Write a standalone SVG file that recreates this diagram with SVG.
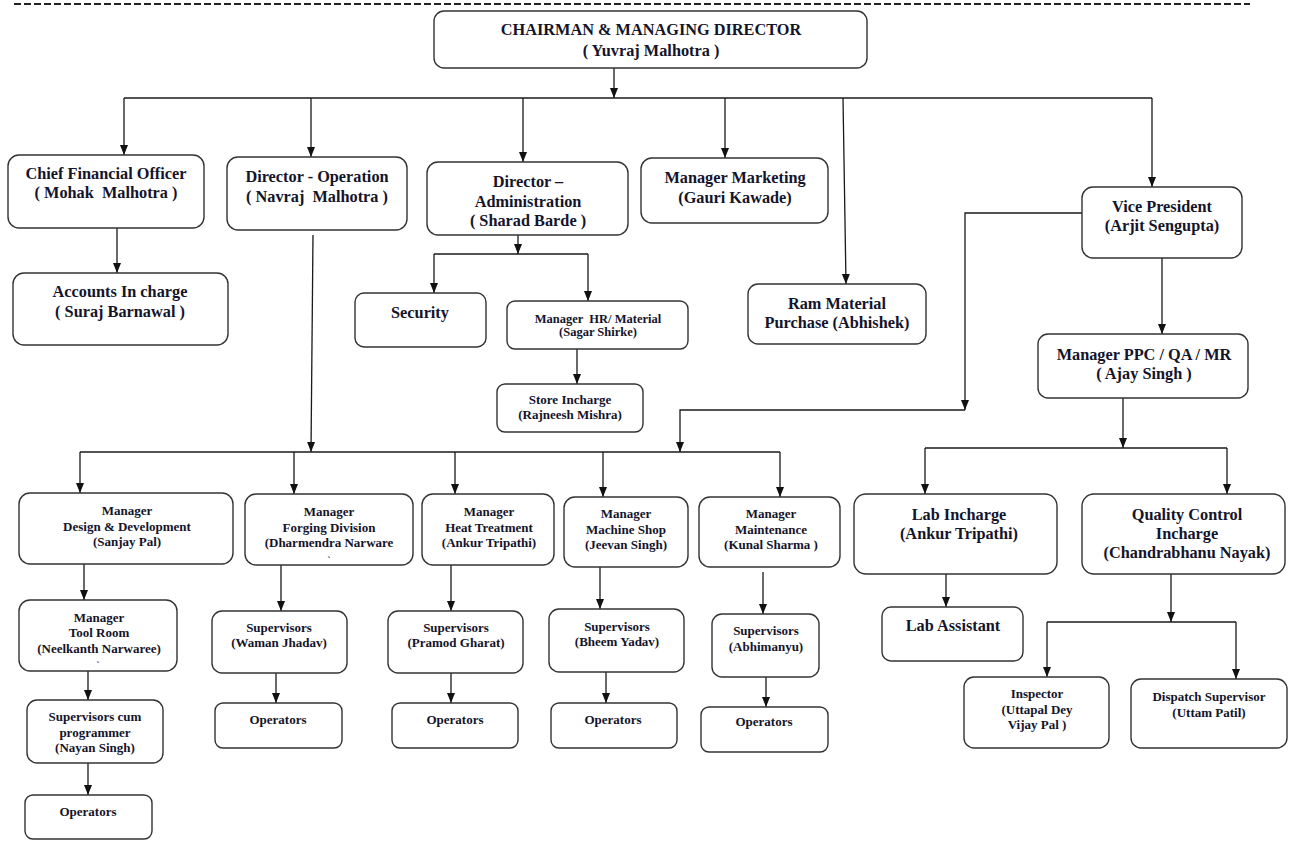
<svg xmlns="http://www.w3.org/2000/svg" width="1290" height="841" viewBox="0 0 1290 841">
<style>
text{font-family:"Liberation Serif","Times New Roman",serif;font-weight:bold;fill:#14142a;text-anchor:middle;white-space:pre}
.l1{font-size:16.3px}
.l2{font-size:13px}
.l2s{font-size:12.5px}
.tk{font-size:9px}
rect{fill:#fff;stroke:#333;stroke-width:1.4}
.c line,.c path{stroke:#1a1a1a;stroke-width:1.3;fill:none}
.a{marker-end:url(#ah)}
</style>
<defs>
<marker id="ah" markerUnits="userSpaceOnUse" markerWidth="10" markerHeight="10" refX="10" refY="5" orient="auto">
<path d="M0,1 L10,5 L0,9 z" fill="#111"/>
</marker>
</defs>
<rect x="0" y="0" width="1290" height="841" style="stroke:none;fill:#fff"/>
<line x1="14" y1="4" x2="1250" y2="4" stroke="#222" stroke-width="2" stroke-dasharray="7 3"/>

<g class="c" id="connectors">
<line class="a" x1="614" y1="68" x2="614" y2="98"/>
<line x1="124" y1="98" x2="1152" y2="98"/>
<line class="a" x1="124" y1="98" x2="124" y2="155"/>
<line class="a" x1="311" y1="98" x2="311" y2="157"/>
<line class="a" x1="523" y1="98" x2="523" y2="162"/>
<line class="a" x1="725" y1="98" x2="725" y2="158"/>
<line class="a" x1="843" y1="98" x2="846" y2="284"/>
<line class="a" x1="1152" y1="98" x2="1152" y2="187"/>
<line class="a" x1="117" y1="228" x2="117" y2="273"/>
<line class="a" x1="518" y1="235" x2="518" y2="254"/>
<line x1="434" y1="254" x2="588" y2="254"/>
<line class="a" x1="434" y1="254" x2="434" y2="293"/>
<line class="a" x1="588" y1="254" x2="588" y2="301"/>
<line class="a" x1="577" y1="349" x2="577" y2="384"/>
<line class="a" x1="313" y1="235" x2="311" y2="452"/>
<line x1="80" y1="452" x2="780" y2="452"/>
<line class="a" x1="80" y1="452" x2="80" y2="493"/>
<line class="a" x1="294" y1="452" x2="294" y2="494"/>
<line class="a" x1="455" y1="452" x2="455" y2="494"/>
<line class="a" x1="603" y1="452" x2="603" y2="497"/>
<line class="a" x1="780" y1="452" x2="780" y2="497"/>
<path class="a" d="M1082,213 H965 V410"/>
<path class="a" d="M965,410 H680 V452"/>
<line class="a" x1="1162" y1="258" x2="1162" y2="334"/>
<line class="a" x1="1123" y1="398" x2="1123" y2="448"/>
<line x1="925" y1="448" x2="1227" y2="448"/>
<line class="a" x1="925" y1="448" x2="925" y2="494"/>
<line class="a" x1="1227" y1="448" x2="1227" y2="494"/>
<line class="a" x1="946" y1="574" x2="946" y2="607"/>
<line class="a" x1="1171" y1="574" x2="1171" y2="622"/>
<line x1="1047" y1="622" x2="1236" y2="622"/>
<line class="a" x1="1047" y1="622" x2="1047" y2="677"/>
<line class="a" x1="1236" y1="622" x2="1236" y2="679"/>
<line class="a" x1="84" y1="564" x2="84" y2="600"/>
<line class="a" x1="88" y1="671" x2="88" y2="700"/>
<line class="a" x1="88" y1="763" x2="88" y2="795"/>
<line class="a" x1="281" y1="565" x2="281" y2="611"/>
<line class="a" x1="276" y1="673" x2="276" y2="703"/>
<line class="a" x1="451" y1="565" x2="451" y2="611"/>
<line class="a" x1="451" y1="673" x2="451" y2="703"/>
<line class="a" x1="600" y1="567" x2="600" y2="609"/>
<line class="a" x1="606" y1="672" x2="606" y2="703"/>
<line class="a" x1="763" y1="572" x2="763" y2="614"/>
<line class="a" x1="766" y1="677" x2="766" y2="707"/>
</g>

<g id="chairman"><rect x="434" y="11" width="433" height="57" rx="10"/>
<text class="l1" x="651" y="35">CHAIRMAN &amp; MANAGING DIRECTOR</text>
<text class="l1" x="651" y="56">( Yuvraj Malhotra )</text></g>

<g id="cfo"><rect x="8" y="155" width="196" height="73" rx="11"/>
<text class="l1" x="106" y="179">Chief Financial Officer</text>
<text class="l1" x="106" y="198">( Mohak  Malhotra )</text></g>

<g id="accounts"><rect x="13" y="273" width="215" height="72" rx="11"/>
<text class="l1" x="120" y="297">Accounts In charge</text>
<text class="l1" x="120" y="317">( Suraj Barnawal )</text></g>

<g id="dir-operation"><rect x="227" y="157" width="180" height="73" rx="11"/>
<text class="l1" x="317" y="182">Director - Operation</text>
<text class="l1" x="317" y="202">( Navraj  Malhotra )</text></g>

<g id="dir-admin"><rect x="427" y="162" width="201" height="73" rx="11"/>
<text class="l1" x="528" y="187">Director –</text>
<text class="l1" x="528" y="207">Administration</text>
<text class="l1" x="528" y="226">( Sharad Barde )</text></g>

<g id="security"><rect x="355" y="293" width="131" height="54" rx="9"/>
<text class="l1" x="420" y="318">Security</text></g>

<g id="manager-hr"><rect x="507" y="301" width="181" height="48" rx="8"/>
<text class="l2s" x="598" y="323">Manager  HR/ Material</text>
<text class="l2s" x="598" y="336">(Sagar Shirke)</text></g>

<g id="store"><rect x="497" y="384" width="146" height="48" rx="8"/>
<text class="l2" x="570" y="404">Store Incharge</text>
<text class="l2" x="570" y="419">(Rajneesh Mishra)</text></g>

<g id="marketing"><rect x="641" y="158" width="187" height="65" rx="11"/>
<text class="l1" x="735" y="183">Manager Marketing</text>
<text class="l1" x="735" y="203">(Gauri Kawade)</text></g>

<g id="ram-material"><rect x="748" y="284" width="178" height="60" rx="10"/>
<text class="l1" x="837" y="309">Ram Material</text>
<text class="l1" x="837" y="328">Purchase (Abhishek)</text></g>

<g id="vice-president"><rect x="1082" y="187" width="160" height="71" rx="11"/>
<text class="l1" x="1162" y="212">Vice President</text>
<text class="l1" x="1162" y="231">(Arjit Sengupta)</text></g>

<g id="manager-ppc"><rect x="1038" y="334" width="210" height="64" rx="10"/>
<text class="l1" x="1144" y="360">Manager PPC / QA / MR</text>
<text class="l1" x="1144" y="379">( Ajay Singh )</text></g>

<g id="lab-incharge"><rect x="854" y="494" width="203" height="80" rx="12"/>
<text class="l1" x="959" y="520">Lab Incharge</text>
<text class="l1" x="959" y="539">(Ankur Tripathi)</text></g>

<g id="qc-incharge"><rect x="1082" y="494" width="203" height="80" rx="12"/>
<text class="l1" x="1187" y="520">Quality Control</text>
<text class="l1" x="1187" y="539">Incharge</text>
<text class="l1" x="1187" y="558">(Chandrabhanu Nayak)</text></g>

<g id="lab-assistant"><rect x="882" y="607" width="141" height="54" rx="9"/>
<text class="l1" x="953" y="631">Lab Assistant</text></g>

<g id="inspector"><rect x="964" y="677" width="145" height="71" rx="10"/>
<text class="l2" x="1037" y="698">Inspector</text>
<text class="l2" x="1037" y="714">(Uttapal Dey</text>
<text class="l2" x="1037" y="729">Vijay Pal )</text></g>

<g id="dispatch"><rect x="1131" y="679" width="156" height="69" rx="10"/>
<text class="l2" x="1209" y="701">Dispatch Supervisor</text>
<text class="l2" x="1209" y="717">(Uttam Patil)</text></g>

<g id="mgr-design"><rect x="19" y="493" width="214" height="71" rx="11"/>
<text class="l2" x="127" y="515">Manager</text>
<text class="l2" x="127" y="531">Design &amp; Development</text>
<text class="l2" x="127" y="546">(Sanjay Pal)</text></g>

<g id="mgr-forging"><rect x="245" y="494" width="168" height="71" rx="11"/>
<text class="l2" x="329" y="516">Manager</text>
<text class="l2" x="329" y="532">Forging Division</text>
<text class="l2" x="329" y="547">(Dharmendra Narware</text>
<text class="tk" x="329" y="563">`</text></g>

<g id="mgr-heat"><rect x="422" y="494" width="132" height="71" rx="11"/>
<text class="l2" x="489" y="516">Manager</text>
<text class="l2" x="489" y="532">Heat Treatment</text>
<text class="l2" x="489" y="547">(Ankur Tripathi)</text></g>

<g id="mgr-machine"><rect x="564" y="497" width="124" height="70" rx="11"/>
<text class="l2" x="626" y="518">Manager</text>
<text class="l2" x="626" y="534">Machine Shop</text>
<text class="l2" x="626" y="549">(Jeevan Singh)</text></g>

<g id="mgr-maintenance"><rect x="699" y="497" width="141" height="70" rx="11"/>
<text class="l2" x="771" y="518">Manager</text>
<text class="l2" x="771" y="534">Maintenance</text>
<text class="l2" x="771" y="549">(Kunal Sharma )</text></g>

<g id="mgr-toolroom"><rect x="19" y="600" width="158" height="71" rx="11"/>
<text class="l2" x="99" y="622">Manager</text>
<text class="l2" x="99" y="637">Tool Room</text>
<text class="l2" x="99" y="653">(Neelkanth Narwaree)</text>
<text class="tk" x="98" y="668">`</text></g>

<g id="sup-programmer"><rect x="27" y="700" width="136" height="63" rx="10"/>
<text class="l2" x="95" y="721">Supervisors cum</text>
<text class="l2" x="95" y="737">programmer</text>
<text class="l2" x="95" y="752">(Nayan Singh)</text></g>

<g id="ops-design"><rect x="25" y="795" width="127" height="44" rx="8"/>
<text class="l2" x="88" y="816">Operators</text></g>

<g id="sup-forging"><rect x="212" y="611" width="135" height="62" rx="10"/>
<text class="l2" x="279" y="632">Supervisors</text>
<text class="l2" x="279" y="647">(Waman Jhadav)</text></g>

<g id="ops-forging"><rect x="215" y="703" width="127" height="45" rx="8"/>
<text class="l2" x="278" y="724">Operators</text></g>

<g id="sup-heat"><rect x="388" y="611" width="135" height="62" rx="10"/>
<text class="l2" x="456" y="632">Supervisors</text>
<text class="l2" x="456" y="647">(Pramod Gharat)</text></g>

<g id="ops-heat"><rect x="392" y="703" width="126" height="45" rx="8"/>
<text class="l2" x="455" y="724">Operators</text></g>

<g id="sup-machine"><rect x="549" y="609" width="135" height="63" rx="10"/>
<text class="l2" x="617" y="631">Supervisors</text>
<text class="l2" x="617" y="646">(Bheem Yadav)</text></g>

<g id="ops-machine"><rect x="551" y="703" width="126" height="45" rx="8"/>
<text class="l2" x="613" y="724">Operators</text></g>

<g id="sup-maintenance"><rect x="712" y="614" width="107" height="63" rx="10"/>
<text class="l2" x="766" y="635">Supervisors</text>
<text class="l2" x="766" y="651">(Abhimanyu)</text></g>

<g id="ops-maintenance"><rect x="701" y="707" width="127" height="45" rx="8"/>
<text class="l2" x="764" y="726">Operators</text></g>
</svg>
